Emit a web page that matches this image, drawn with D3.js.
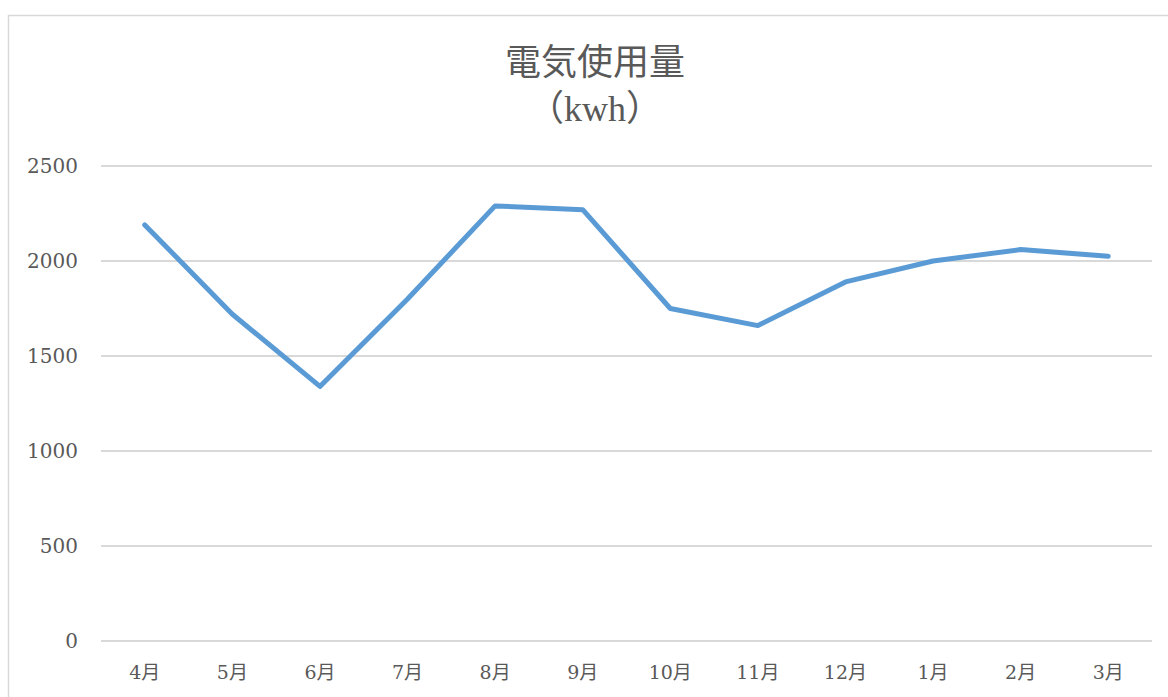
<!DOCTYPE html>
<html>
<head>
<meta charset="utf-8">
<script src="https://cdn.jsdelivr.net/npm/d3@7"></script>
<style>
  body { margin: 0; background: #fff; }
  svg text { font-family: "DejaVu Serif", "Noto Sans CJK JP", serif; fill: #595959; }
  svg text.title { font-family: "Liberation Serif", "Noto Sans CJK JP", serif; }
</style>
</head>
<body>
<svg id="chart" width="1168" height="697"></svg>
<script>
const months = ["4月", "5月", "6月", "7月", "8月", "9月", "10月", "11月", "12月", "1月", "2月", "3月"];
const usage = [2190, 1720, 1340, 1800, 2290, 2270, 1750, 1660, 1890, 2000, 2060, 2025];
const yTicks = [0, 500, 1000, 1500, 2000, 2500];
const titleLines = ["電気使用量", "（kwh）"];

const svg = d3.select("#chart");
const margin = { left: 101, right: 16, top: 166, bottom: 56 };
const width = 1168, height = 697;

// chart frame (runs off the right/bottom edge)
svg.append("rect")
  .attr("x", 8.5).attr("y", 15.5)
  .attr("width", 1200).attr("height", 720)
  .attr("fill", "none")
  .attr("stroke", "#d9d9d9")
  .attr("stroke-width", 1.5);

const x = d3.scaleBand()
  .domain(months)
  .range([margin.left, width - margin.right]);

const y = d3.scaleLinear()
  .domain([0, 2500])
  .range([height - margin.bottom, margin.top]);

// gridlines
svg.append("g")
  .selectAll("line")
  .data(yTicks)
  .enter()
  .append("line")
  .attr("x1", margin.left)
  .attr("x2", width - margin.right)
  .attr("y1", d => y(d))
  .attr("y2", d => y(d))
  .attr("stroke", "#d9d9d9")
  .attr("stroke-width", 2);

// y labels
svg.append("g")
  .selectAll("text")
  .data(yTicks)
  .enter()
  .append("text")
  .attr("x", 78)
  .attr("y", d => y(d) + 7)
  .attr("text-anchor", "end")
  .style("font-size", "20px")
  .text(d => d);

// x labels
svg.append("g")
  .selectAll("text")
  .data(months)
  .enter()
  .append("text")
  .attr("x", d => x(d) + x.bandwidth() / 2)
  .attr("y", 679)
  .attr("text-anchor", "middle")
  .style("font-size", "19px")
  .text(d => d);

// line
const line = d3.line()
  .x((d, i) => x(months[i]) + x.bandwidth() / 2)
  .y(d => y(d));

svg.append("path")
  .datum(usage)
  .attr("d", line)
  .attr("fill", "none")
  .attr("stroke", "#5b9bd5")
  .attr("stroke-width", 5)
  .attr("stroke-linejoin", "round")
  .attr("stroke-linecap", "round");

// title
svg.append("g")
  .selectAll("text")
  .data(titleLines)
  .enter()
  .append("text")
  .attr("class", "title")
  .attr("x", 595)
  .attr("y", (d, i) => 75 + i * 46)
  .attr("text-anchor", "middle")
  .style("font-size", "36px")
  .text(d => d);
</script>
</body>
</html>
